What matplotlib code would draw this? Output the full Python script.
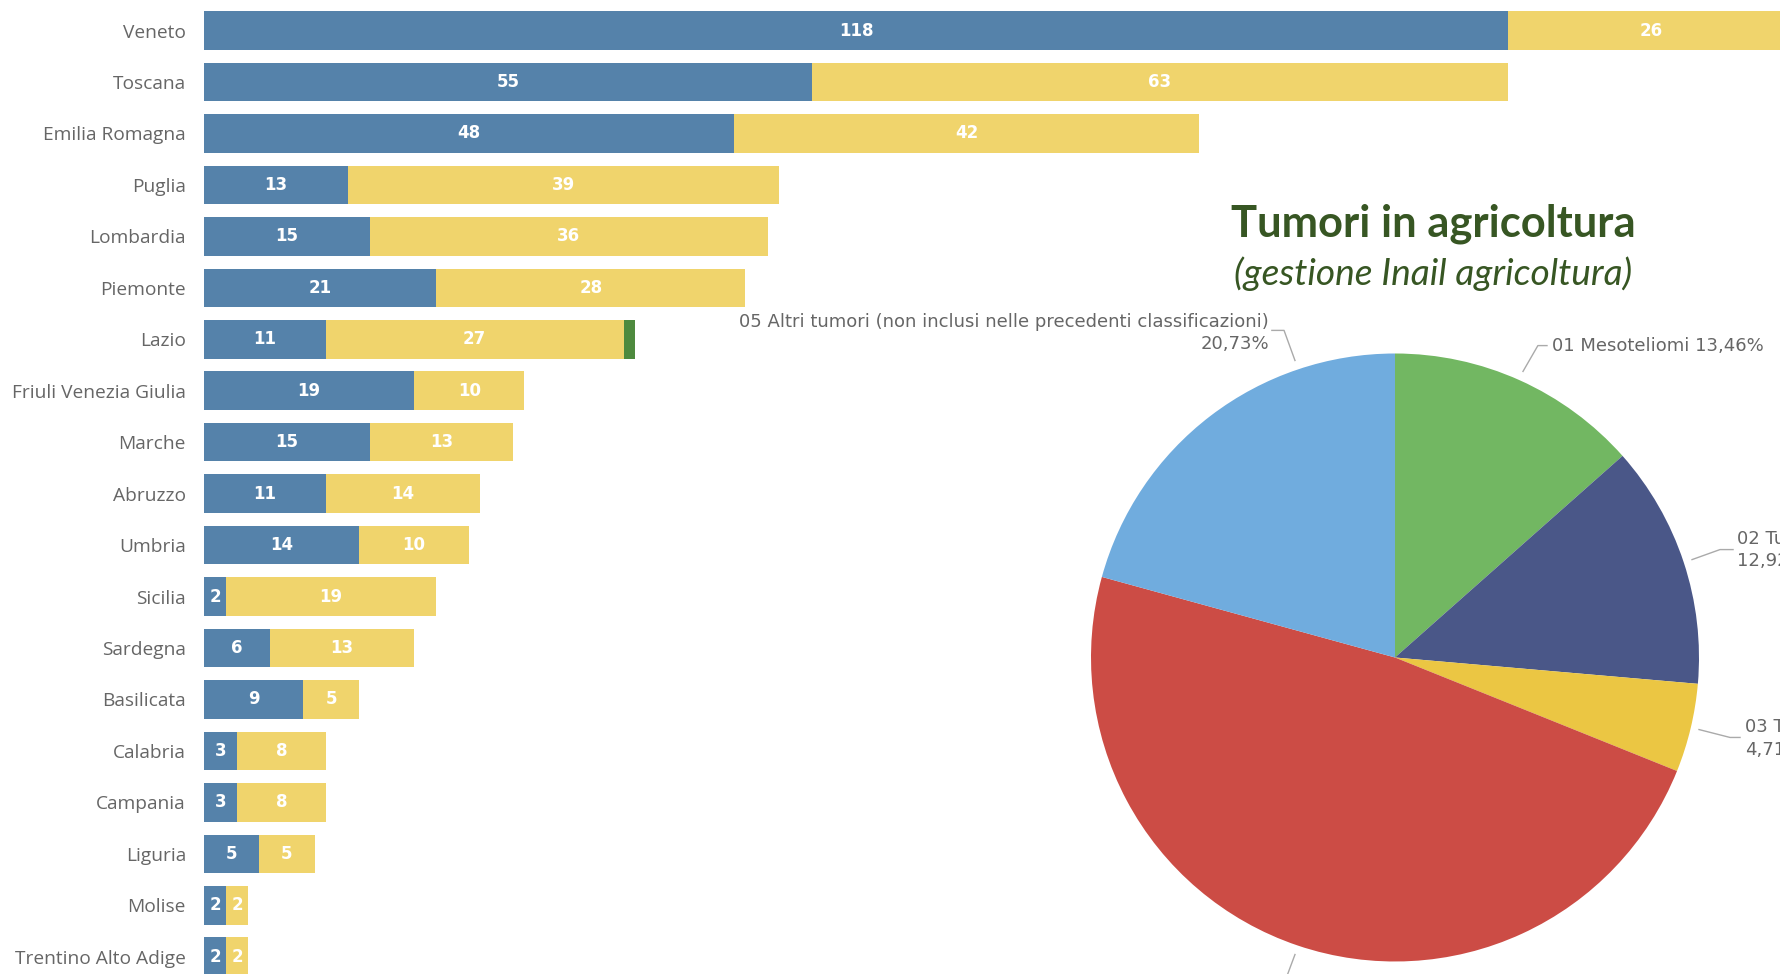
import numpy as np
import matplotlib
matplotlib.use('Agg')
import matplotlib.pyplot as plt

# bar chart data (per regione)
regioni = ['Veneto', 'Toscana', 'Emilia Romagna', 'Puglia', 'Lombardia', 'Piemonte', 'Lazio',
           'Friuli Venezia Giulia', 'Marche', 'Abruzzo', 'Umbria', 'Sicilia', 'Sardegna',
           'Basilicata', 'Calabria', 'Campania', 'Liguria', 'Molise', 'Trentino Alto Adige']
serie_blu = [118, 55, 48, 13, 15, 21, 11, 19, 15, 11, 14, 2, 6, 9, 3, 3, 5, 2, 2]
serie_gialla = [26, 63, 42, 39, 36, 28, 27, 10, 13, 14, 10, 19, 13, 5, 8, 8, 5, 2, 2]
serie_verde = [0, 0, 0, 0, 0, 0, 1, 0, 0, 0, 0, 0, 0, 0, 0, 0, 0, 0, 0]

# pie data
categorie = ['01 Mesoteliomi', '02 Tumori', '03 Tumori', '04 Tumori',
             '05 Altri tumori (non inclusi nelle precedenti classificazioni)']
percentuali = [13.46, 12.92, 4.71, 48.18, 20.73]

W, H = 1780, 974
fig = plt.figure(figsize=(W / 100, H / 100), dpi=100)

# ---------------- bar chart ----------------
x0 = 204
ax = fig.add_axes([x0 / W, 0, 1 - x0 / W, 1])
px_per_unit = 11.05
row_top, row_step = 30.6, 51.45
ax.set_xlim(0, (W - x0) / px_per_unit)
ax.set_ylim((H - row_top) / row_step, -row_top / row_step)

y = np.arange(len(regioni))
colori = ['#5582AA', '#F0D46C', '#4E8A3E']
left = np.zeros(len(regioni))
for vals, c in zip([serie_blu, serie_gialla, serie_verde], colori):
    vals = np.array(vals, dtype=float)
    ax.barh(y, vals, left=left, height=0.75, color=c)
    for yi, (l, v) in enumerate(zip(left, vals)):
        if v > 1:
            ax.text(l + v / 2, yi, str(int(v)), ha='center', va='center',
                    color='white', fontsize=12, fontweight='bold', family='DejaVu Sans')
    left += vals

ax.set_yticks(y)
ax.set_yticklabels(regioni, fontsize=13.8, color='#666666', family='Open Sans')
ax.tick_params(axis='y', length=0, pad=13)
ax.set_xticks([])
for s in ax.spines.values():
    s.set_visible(False)

# ---------------- pie chart ----------------
cx, cy, r = 1395, 657.5, 304
pax = fig.add_axes([(cx - r) / W, (H - cy - r) / H, 2 * r / W, 2 * r / H])
pax.set_facecolor('none')
colori_pie = ['#72B762', '#4A5788', '#EBC643', '#CC4C45', '#70ACDE']
pax.pie(percentuali, colors=colori_pie, startangle=90, counterclock=False, radius=1)
pax.set_xlim(-1, 1)
pax.set_ylim(-1, 1)
pax.set_aspect('equal')

# leader lines and labels (pie data coords, radius = 1)
grigio = '#666666'
leaders = [
    [(-0.329, 0.977), (-0.365, 1.076), (-0.405, 1.076)],
    [(0.421, 0.941), (0.470, 1.026), (0.500, 1.026)],
    [(0.977, 0.322), (1.069, 0.355), (1.112, 0.355)],
    [(1.000, -0.237), (1.102, -0.263), (1.135, -0.263)],
    [(-0.329, -0.977), (-0.360, -1.06)],
]
for pts in leaders:
    xs, ys = zip(*pts)
    pax.plot(xs, ys, color='#AAAAAA', lw=1, clip_on=False)

fs = 13
pax.text(-0.414, 1.105, categorie[4], ha='right', va='center', fontsize=fs, color=grigio, clip_on=False)
pax.text(-0.414, 1.03, '20,73%', ha='right', va='center', fontsize=fs, color=grigio, clip_on=False)
pax.text(0.516, 1.026, '01 Mesoteliomi 13,46%', ha='left', va='center', fontsize=fs, color=grigio, clip_on=False)
pax.text(1.125, 0.391, categorie[1], ha='left', va='center', fontsize=fs, color=grigio, clip_on=False)
pax.text(1.125, 0.316, '12,92%', ha='left', va='center', fontsize=fs, color=grigio, clip_on=False)
pax.text(1.151, -0.227, categorie[2], ha='left', va='center', fontsize=fs, color=grigio, clip_on=False)
pax.text(1.151, -0.303, '4,71%', ha='left', va='center', fontsize=fs, color=grigio, clip_on=False)

# title
fig.text(1433 / W, 1 - 224 / H, 'Tumori in agricoltura', ha='center', va='center',
         fontsize=31.3, fontweight='bold', color='#375623', family='Lato')
fig.text(1433 / W, 1 - 274 / H, '(gestione Inail agricoltura)', ha='center', va='center',
         fontsize=26.7, style='italic', color='#375623', family='Lato')

fig.savefig('out.png', dpi=100)
